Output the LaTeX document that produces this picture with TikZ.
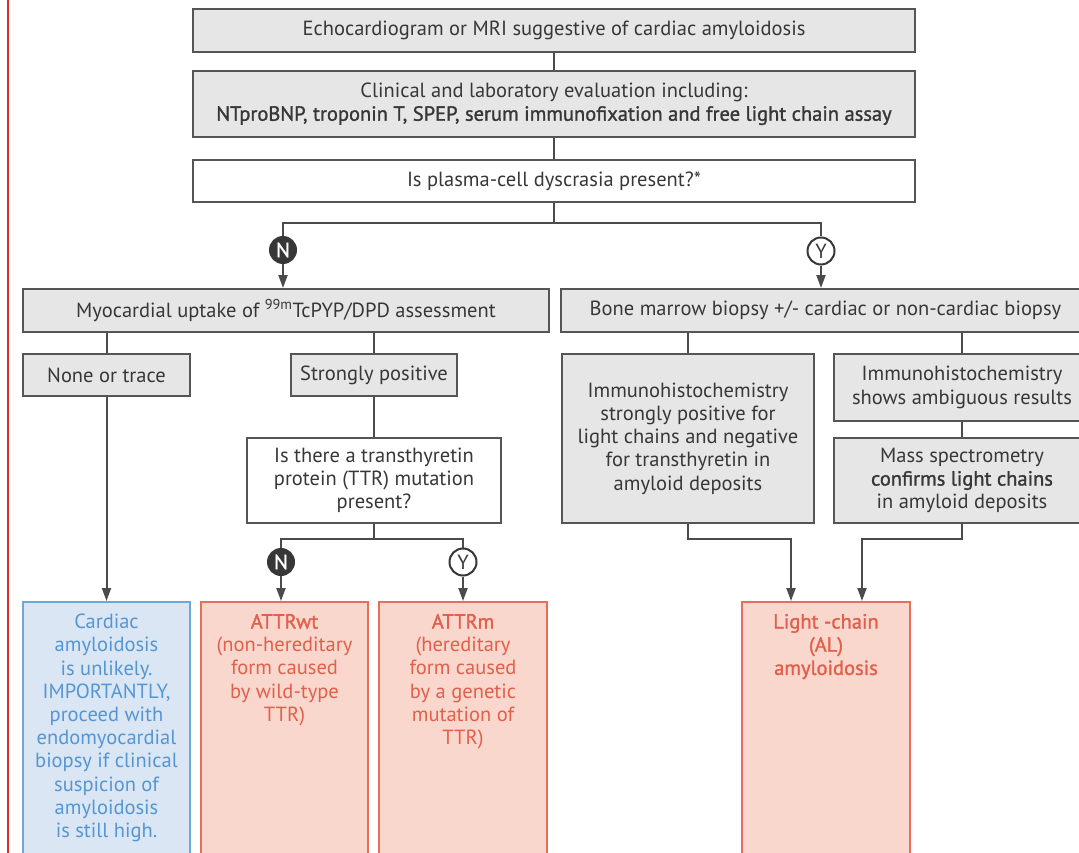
\documentclass[tikz,border=0pt]{standalone}
\usepackage{fontspec}
\setmainfont{PT Sans}
\newfontfamily\medfont{PT Sans}[FakeBold=1.3]
\usetikzlibrary{arrows.meta}
\definecolor{boxgray}{RGB}{230,230,230}
\definecolor{edgegray}{RGB}{85,85,85}
\definecolor{inkgray}{RGB}{55,55,55}
\definecolor{linegray}{RGB}{75,75,75}
\definecolor{bluefill}{RGB}{218,230,244}
\definecolor{blueedge}{RGB}{110,168,215}
\definecolor{blueink}{RGB}{85,150,210}
\definecolor{redfill}{RGB}{250,215,205}
\definecolor{rededge}{RGB}{230,110,90}
\definecolor{redink}{RGB}{225,95,75}
\definecolor{marginred}{RGB}{215,45,45}
\tikzset{
	txt/.style={font=\fontsize{20.5}{23.2}\selectfont, text=inkgray, align=center},
	graybox/.style={txt, draw=edgegray, line width=2pt, fill=boxgray, inner sep=0pt},
	whitebox/.style={graybox, fill=white},
	outcome/.style={txt, anchor=north, line width=2pt, minimum width=167pt, inner xsep=0pt, inner ysep=12pt, text depth=280pt},
	bluebox/.style={outcome, draw=blueedge, fill=bluefill, text=blueink},
	redbox/.style={outcome, draw=rededge, fill=redfill, text=redink},
	nobub/.style={circle, fill=inkgray, text=white, minimum size=28pt, inner sep=0pt, font=\fontsize{20.5}{21}\medfont},
	yesbub/.style={circle, draw=inkgray, fill=white, line width=2pt, text=inkgray, minimum size=27pt, inner sep=0pt, font=\fontsize{20.5}{21}\selectfont},
	link/.style={draw=linegray, line width=2pt},
	arr/.style={link, -{Triangle[length=13pt,width=9pt]}}
}

\begin{document}
\begin{tikzpicture}[x=1pt, y=-1pt]
			%%%%% START %%%%%
			
			\path[use as bounding box, fill=white] (0,0) rectangle (1079,853);
			\draw[marginred, line width=2.5pt] (8,0) -- (8,853);
			
			\node[graybox, minimum width=722pt, minimum height=43pt] (echo) at (554,30.5) {Echocardiogram or MRI suggestive of cardiac amyloidosis};
			\node[graybox, minimum width=722pt, minimum height=66pt] (clin) at (554,104) {Clinical and laboratory evaluation including:\\ {\medfont NTproBNP, troponin T, SPEP, serum immunofixation and free light chain assay}};
			\node[whitebox, minimum width=722pt, minimum height=42pt] (plasma) at (554,181) {Is plasma-cell dyscrasia present?*};
			
			\coordinate (split1) at (554,223);
			\node[nobub] (no1) at (283,250) {N};
			\node[yesbub] (yes1) at (821,251) {Y};
			
			\node[graybox, minimum width=526pt, minimum height=43pt] (uptake) at (286,310.5) {Myocardial uptake of \textsuperscript{99m}TcPYP/DPD assessment};
			\node[graybox, minimum width=529pt, minimum height=43pt] (marrow) at (825.5,310.5) {Bone marrow biopsy +/- cardiac or non-cardiac biopsy};
			
			\node[graybox, minimum width=167pt, minimum height=42pt] (trace) at (106.5,375) {None or trace};
			\node[graybox, minimum width=166pt, minimum height=42pt] (strong) at (374,375) {Strongly positive};
			\node[whitebox, minimum width=254pt, minimum height=85pt] (ttr) at (374,480.5) {Is there a transthyretin\\ protein (TTR) mutation\\ present?};
			
			\coordinate (split2) at (374,539);
			\node[nobub] (no2) at (281,562) {N};
			\node[yesbub] (yes2) at (463,562) {Y};
			
			\node[graybox, minimum width=252pt, minimum height=169pt] (ihc) at (688,438.5) {Immunohistochemistry\\ strongly positive for\\ light chains and negative\\ for transthyretin in\\ amyloid deposits};
			\node[graybox, minimum width=256pt, minimum height=67pt] (ambig) at (962,387.5) {Immunohistochemistry\\ shows ambiguous results};
			\node[graybox, minimum width=256pt, minimum height=85pt] (mass) at (962,480.5) {Mass spectrometry\\ {\medfont confirms light chains}\\ in amyloid deposits};
			
			\coordinate (join1) at (791,539);
			\coordinate (join2) at (862,539);
			
			\node[bluebox] (unlikely) at (106.5,601) {Cardiac\\ amyloidosis\\ is unlikely.\\ IMPORTANTLY,\\ proceed with\\ endomyocardial\\ biopsy if clinical\\ suspicion of\\ amyloidosis\\ is still high.};
			\node[redbox] (wild) at (284.5,601) {{\medfont ATTRwt}\\ (non-hereditary\\ form caused\\ by wild-type\\ TTR)};
			\node[redbox, minimum width=168pt] (hered) at (463,601) {{\medfont ATTRm}\\ (hereditary\\ form caused\\ by a genetic\\ mutation of\\ TTR)};
			\node[redbox, minimum width=168pt, font=\fontsize{20.5}{23.2}\medfont] (light) at (826,601) {Light -chain\\ (AL)\\ amyloidosis};
			
			\draw[link] (echo) -- (clin);
			\draw[link] (clin) -- (plasma);
			\draw[link] (plasma) -- (split1) -| (no1);
			\draw[link] (split1) -| (yes1);
			\draw[arr] (no1) -- (no1 |- uptake.north);
			\draw[arr] (yes1) -- (yes1 |- marrow.north);
			
			\draw[link] (trace.north |- uptake.south) -- (trace);
			\draw[link] (strong.north |- uptake.south) -- (strong);
			\draw[link] (strong) -- (ttr);
			\draw[link] (ttr) -- (split2) -| (no2);
			\draw[link] (split2) -| (yes2);
			\draw[arr] (no2) -- (no2 |- wild.north);
			\draw[arr] (yes2) -- (yes2 |- hered.north);
			\draw[arr] (trace) -- (trace |- unlikely.north);
			
			\draw[link] (ihc.north |- marrow.south) -- (ihc);
			\draw[link] (ambig.north |- marrow.south) -- (ambig);
			\draw[link] (ambig) -- (mass);
			\draw[arr] (ihc) |- (join1) -- (join1 |- light.north);
			\draw[arr] (mass) |- (join2) -- (join2 |- light.north);
			
			%%%%% END %%%%%
\end{tikzpicture}
\end{document}
